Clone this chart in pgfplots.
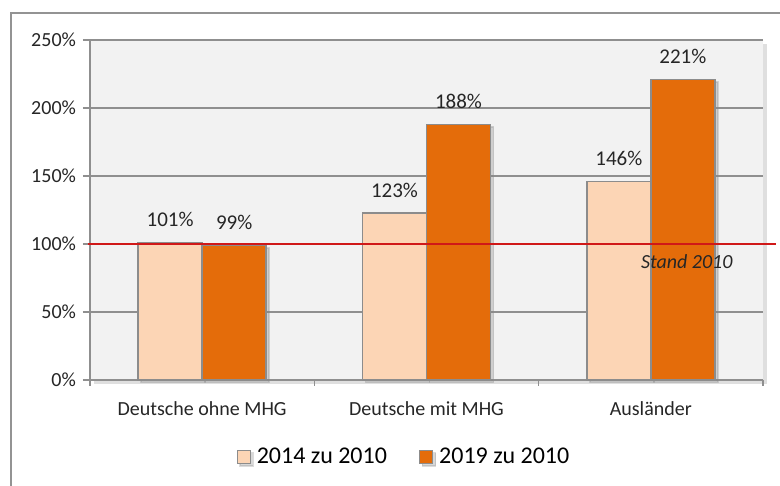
\documentclass[border=0pt]{standalone}
\usepackage{pgfplots}
\pgfplotsset{compat=1.18}
\usepackage{fontspec}
\setmainfont{Carlito}
\usetikzlibrary{shadows}
\definecolor{peach}{HTML}{FCD5B5}
\definecolor{orangeb}{HTML}{E46C0A}
\definecolor{barline}{HTML}{8C8C8C}
\definecolor{gridc}{HTML}{8F8F8F}
\definecolor{plotbg}{HTML}{F2F2F2}
\definecolor{redline}{HTML}{D01818}
\begin{document}
\begin{tikzpicture}[x=0.5pt,y=0.5pt]
\clip (0,0) rectangle (780,486);
\fill[white] (0,0) rectangle (780,486);
\draw[gray!85, line width=1.2pt] (11,-20) rectangle (800,473);
\begin{axis}[
  at={(45pt,53pt)}, anchor=south west,
  scale only axis, width=336.5pt, height=170pt,
  ybar=0pt, bar width=32pt,
  xmin=-0.5, xmax=2.5, ymin=0, ymax=250,
  xtick={0,1,2},
  xticklabels={Deutsche ohne MHG, Deutsche mit MHG, Ausländer},
  minor xtick={-0.5,0.5,1.5,2.5},
  major x tick style={draw=none},
  minor x tick style={gridc, line width=0.6pt},
  minor tick length=3pt,
  major tick length=3.5pt,
  tick align=outside,
  ytick={0,50,...,250},
  y tick style={gridc, line width=0.6pt},
  yticklabel={\pgfmathprintnumber{\tick}\%},
  ymajorgrids,
  grid style={gridc, line width=0.6pt},
  axis x line*=bottom, axis y line*=left,
  axis line style={gridc, line width=0.7pt},
  axis background/.style={fill=plotbg, drop shadow={opacity=0.25, shadow xshift=2pt, shadow yshift=-2pt}},
  tick label style={font=\fontsize{10}{12}\selectfont, text=black!85},
  xticklabel style={yshift=-4pt},
  /pgf/number format/assume math mode=true,
  clip=false,
  legend style={at={(0.468,-0.226)}, anchor=center, draw=none, fill=none,
    legend columns=2, font=\fontsize{12}{14}\selectfont,
    /tikz/every odd column/.append style={column sep=1pt},
    /tikz/every even column/.append style={column sep=14pt}},
  legend image code/.code={\draw[#1, draw=barline, line width=0.5pt] (0pt,-3.3pt) rectangle (6.6pt,3.3pt);},
]
\addplot[fill=peach, draw=barline, line width=0.8pt, bar shift=-16pt,
  drop shadow={opacity=0.3, shadow xshift=1.5pt, shadow yshift=-1.2pt},
  nodes near coords={\pgfmathprintnumber\pgfplotspointmeta\%},
  nodes near coords style={font=\fontsize{10.5}{12}\selectfont, text=black!85, yshift=4pt}]
  coordinates {(0,101) (1,123) (2,146)};
\addlegendentry{2014 zu 2010}
\addplot[fill=orangeb, draw=barline, line width=0.8pt, bar shift=16pt,
  drop shadow={opacity=0.3, shadow xshift=1.5pt, shadow yshift=-1.2pt},
  nodes near coords={\pgfmathprintnumber\pgfplotspointmeta\%},
  nodes near coords style={font=\fontsize{10.5}{12}\selectfont, text=black!85, yshift=4pt}]
  coordinates {(0,99) (1,188) (2,221)};
\addlegendentry{2019 zu 2010}
\addplot[sharp plot, redline, line width=1pt, forget plot]
  coordinates {(-0.51,100) (2.56,100)};
\node[font=\itshape\fontsize{10}{12}\selectfont, text=black!85] at (axis cs:2.16,87) {Stand 2010};
\end{axis}
\end{tikzpicture}
\end{document}
